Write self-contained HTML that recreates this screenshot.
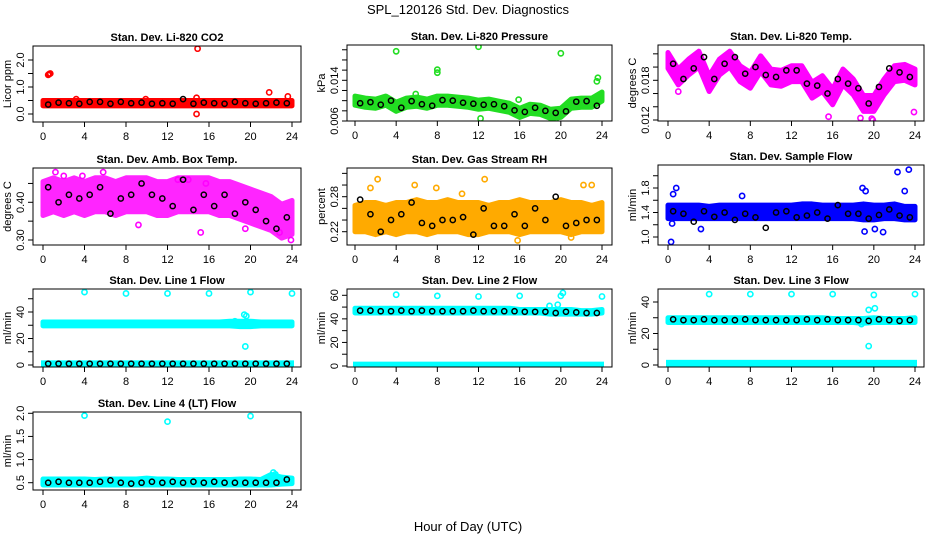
<!DOCTYPE html>
<html><head><meta charset="utf-8">
<style>
html,body{margin:0;padding:0;background:#fff;}
svg{display:block;font-family:"Liberation Sans",Arial,sans-serif;}
</style></head>
<body>
<svg id="chart" width="936" height="540" viewBox="0 0 936 540">
<text x="468" y="14" font-size="13" text-anchor="middle">SPL_120126  Std. Dev. Diagnostics</text>
<text x="468" y="531" font-size="13" text-anchor="middle">Hour of Day (UTC)</text>
</svg>
<script>
// ---- shared x ticks ----
const xTicks = [0,4,8,12,16,20,24];
const blackHours = [0.5,1.5,2.5,3.5,4.5,5.5,6.5,7.5,8.5,9.5,10.5,11.5,12.5,13.5,14.5,15.5,16.5,17.5,18.5,19.5,20.5,21.5,22.5,23.5];
const bandHours = [0,1,2,3,4,5,6,7,8,9,10,11,12,13,14,15,16,17,18,19,20,21,22,23,24];

// ---- panel 1: CO2 ----
const co2Low  = [0.3,0.3,0.3,0.3,0.3,0.3,0.3,0.3,0.3,0.3,0.3,0.3,0.3,0.3,0.3,0.3,0.3,0.3,0.3,0.3,0.3,0.3,0.3,0.3,0.3];
const co2High = [0.5,0.5,0.5,0.5,0.5,0.5,0.5,0.5,0.5,0.5,0.5,0.5,0.5,0.5,0.5,0.5,0.5,0.5,0.5,0.5,0.5,0.5,0.5,0.5,0.5];
const co2Black = [0.35,0.42,0.4,0.38,0.45,0.45,0.38,0.45,0.4,0.42,0.38,0.4,0.38,0.55,0.38,0.42,0.4,0.38,0.45,0.4,0.38,0.4,0.42,0.4];
const co2OutX = [0.5,0.6,0.7,14.9,14.8,14.8,21.8,23.6,3.2,9.9];
const co2OutY = [1.45,1.48,1.5,2.42,0.6,0.0,0.8,0.65,0.55,0.55];
// ---- panel 2: pressure ----
const presLow  = [0.0091,0.0087,0.0085,0.0091,0.0079,0.0087,0.0089,0.0085,0.0091,0.0091,0.0089,0.0087,0.0083,0.0085,0.0081,0.0077,0.0067,0.0075,0.0073,0.0065,0.0067,0.0085,0.0087,0.0087,0.0099];
const presHigh = [0.0109,0.0105,0.0103,0.0109,0.0097,0.0105,0.0107,0.0103,0.0109,0.0109,0.0107,0.0105,0.0101,0.0103,0.0099,0.0095,0.0085,0.0093,0.0091,0.0083,0.0085,0.0103,0.0105,0.0105,0.0117];
const presBlack = [0.0095,0.0097,0.0092,0.0100,0.0086,0.0099,0.0093,0.0090,0.0101,0.0100,0.0096,0.0094,0.0092,0.0093,0.0089,0.0081,0.0078,0.0086,0.0080,0.0076,0.0079,0.0098,0.0099,0.0090];
const presOutX = [4,8,8,12,20,23.6,23.5,15.9,12.2,19.5,5.9];
const presOutY = [0.0197,0.0161,0.0155,0.0206,0.0193,0.0145,0.0138,0.0102,0.0065,0.0064,0.0113];
// ---- panel 3: Li-820 temp ----
const tempLow  = [0.0198,0.0173,0.0188,0.0200,0.0163,0.0188,0.0200,0.0178,0.0168,0.0193,0.0173,0.0171,0.0178,0.0178,0.0153,0.0163,0.0143,0.0173,0.0158,0.0133,0.0133,0.0158,0.0178,0.0180,0.0173];
const tempHigh = [0.0222,0.0197,0.0212,0.0224,0.0187,0.0212,0.0224,0.0202,0.0192,0.0217,0.0197,0.0195,0.0202,0.0202,0.0177,0.0187,0.0167,0.0197,0.0182,0.0157,0.0157,0.0182,0.0202,0.0204,0.0197];
const tempBlack = [0.0205,0.0182,0.0198,0.0215,0.0182,0.0205,0.0215,0.0190,0.0200,0.0188,0.0185,0.0195,0.0195,0.0175,0.0172,0.0160,0.0182,0.0175,0.0168,0.0145,0.0170,0.0198,0.0192,0.0185];
const tempOutX = [1,23.9,18.7,15.6,19.8,19.9];
const tempOutY = [0.0163,0.0132,0.0123,0.0125,0.0122,0.0120];
// ---- panel 4: ambient box temp ----
const ambLow  = [0.365,0.375,0.365,0.375,0.365,0.375,0.375,0.365,0.375,0.375,0.375,0.365,0.365,0.375,0.375,0.375,0.375,0.365,0.365,0.355,0.345,0.335,0.325,0.305,0.315];
const ambHigh = [0.455,0.465,0.455,0.465,0.455,0.465,0.465,0.455,0.465,0.465,0.465,0.455,0.455,0.465,0.465,0.465,0.465,0.455,0.455,0.445,0.435,0.425,0.415,0.395,0.405];
const ambBlack = [0.44,0.40,0.42,0.41,0.42,0.44,0.37,0.41,0.42,0.45,0.42,0.41,0.39,0.46,0.38,0.42,0.39,0.42,0.37,0.40,0.38,0.35,0.33,0.36];
const ambOutX = [1.2,3.8,5.8,13,14,15.7,22.8,23.9,9.2,15.2,19.5,2.0];
const ambOutY = [0.48,0.47,0.48,0.46,0.46,0.45,0.32,0.30,0.34,0.32,0.33,0.47];
// ---- panel 5: gas stream RH ----
const rhLow  = [0.22,0.22,0.215,0.22,0.215,0.22,0.22,0.215,0.22,0.22,0.22,0.215,0.215,0.22,0.22,0.22,0.215,0.22,0.22,0.22,0.22,0.215,0.22,0.22,0.22];
const rhHigh = [0.265,0.27,0.27,0.265,0.27,0.27,0.275,0.27,0.27,0.275,0.27,0.27,0.27,0.265,0.27,0.27,0.275,0.27,0.27,0.27,0.275,0.27,0.27,0.265,0.27];
const rhBlack = [0.275,0.25,0.22,0.24,0.25,0.27,0.235,0.23,0.24,0.24,0.245,0.215,0.26,0.23,0.23,0.25,0.23,0.26,0.24,0.28,0.23,0.235,0.24,0.24];
const rhOutX = [2.2,5.8,7.9,12.6,22.2,23,1.5,10.4,21,15.8,0.1];
const rhOutY = [0.31,0.30,0.295,0.31,0.30,0.30,0.295,0.285,0.21,0.205,0.222];
// ---- panel 6: sample flow ----
const sfLow  = [1.3,1.3,1.3,1.3,1.3,1.3,1.3,1.3,1.3,1.3,1.3,1.3,1.3,1.3,1.3,1.3,1.3,1.3,1.3,1.28,1.28,1.3,1.3,1.28,1.28];
const sfHigh = [1.52,1.52,1.52,1.52,1.5,1.52,1.52,1.52,1.52,1.52,1.52,1.52,1.52,1.54,1.54,1.52,1.52,1.52,1.52,1.54,1.52,1.52,1.54,1.5,1.5];
const sfBlack = [1.42,1.38,1.25,1.42,1.33,1.40,1.28,1.38,1.32,1.15,1.40,1.42,1.32,1.35,1.40,1.30,1.52,1.38,1.38,1.30,1.36,1.45,1.35,1.32];
const sfOutX = [0.5,0.3,0.8,3.2,7.2,18.9,19.2,20.1,20.9,22.3,23.4,23,19.1,0.4];
const sfOutY = [1.7,0.92,1.8,1.13,1.67,1.8,1.75,1.13,1.08,2.06,2.1,1.75,1.09,1.22];
// ---- panel 7: line 1 flow ----
const l1Low  = [29.5,29.5,29.5,29.5,29.5,29.5,29.5,29.5,29.5,29.5,29.5,29.5,29.5,29.5,29.5,29.5,29.5,29.5,29.5,29.0,29.0,29.5,29.5,29.5,29.5];
const l1High = [32.5,32.5,32.5,32.5,32.5,32.5,32.5,32.5,32.5,32.5,32.5,32.5,32.5,32.5,32.5,32.5,32.5,32.5,33,33,33,32.5,32.5,32.5,32.5];
const l1Black = [1,1,1,1,1,1,1,1,1,1,1,1,1,1,1,1,1,1,1,1,1,1,1,1];
const l1OutX = [4,8,12,16,20,24,19.5,19.4,19.6,18.5];
const l1OutY = [55,54,54,54,55,54,14,38,37,33];
// ---- panel 8: line 2 flow ----
const l2Low  = [45,45,45,45,45,45,45,45,45,45,45,45,45,45,45,45,45,45,45,44,44,44,44,44,45];
const l2High = [49,49,49,49,49,49,49,49,49,49,49,49,49,49,49,49,48,48,48,48,48,48,47,47,48];
const l2Black = [47,47,46.5,46.5,47,46.5,47,46.5,46.5,46.5,46.5,47,46.5,46.5,46.5,46.5,46,46,46,45,46,45.5,45,45];
const l2OutX = [4,8,12,16,20,20.2,24,18.9,19.7];
const l2OutY = [60.5,59.5,59,59.5,59.5,62,59,51,52];
// ---- panel 9: line 3 flow ----
const l3Low  = [27,27,27,27,27,27,27,27,27,27,27,27,27,27,27,27,27,27,27,26.5,27,27,27,27,27];
const l3High = [30,30,30,30,30,30,30,30,30,30,30,30,30,30,30,30,29.5,29.5,29.5,29.5,30,29.5,29.5,29.5,30];
const l3Black = [29,28.5,28.5,29,28.5,28.5,28.5,29,28.5,28.5,28.5,28.5,28.5,29,28.5,29,28.5,28.5,28.5,28,29,28.5,28,28.5];
const l3OutX = [4,8,12,16,20,24,19.5,19.5,20.1,18.8];
const l3OutY = [45,45,45,45,44.5,45,12,35,36,26];
// ---- panel 10: line 4 flow ----
const l4Low  = [0.45,0.45,0.45,0.45,0.45,0.45,0.45,0.45,0.45,0.45,0.45,0.45,0.45,0.45,0.45,0.45,0.45,0.45,0.45,0.45,0.45,0.45,0.45,0.47,0.48];
const l4High = [0.58,0.58,0.58,0.58,0.58,0.57,0.58,0.58,0.58,0.58,0.6,0.58,0.58,0.57,0.57,0.57,0.57,0.57,0.57,0.58,0.58,0.57,0.68,0.62,0.6];
const l4Black = [0.5,0.52,0.5,0.5,0.5,0.52,0.55,0.5,0.48,0.5,0.52,0.5,0.52,0.5,0.52,0.5,0.52,0.5,0.5,0.5,0.5,0.5,0.5,0.57];
const l4OutX = [4,12,20,22.2,22.4];
const l4OutY = [1.95,1.82,1.94,0.72,0.68];

const panels = [
 {name:'co2',title:'Stan. Dev. Li-820 CO2',yl:'Licor ppm',box:[33,46,301,122],x0:43,x24:292,ya:[0,114,2,60],ticks:[0,0.5,1,1.5,2],labels:[0,1,2],fmt:1,col:'#ff0000',low:co2Low,high:co2High,blk:co2Black,ox:co2OutX,oy:co2OutY},
 {name:'pressure',title:'Stan. Dev. Li-820 Pressure',yl:'kPa',box:[347,45,612,121],x0:355,x24:602,ya:[0.006,121,0.014,80.3],ticks:[0.006,0.008,0.010,0.012,0.014,0.016,0.018,0.020],labels:[0.006,0.014],fmt:3,col:'#22dd22',low:presLow,high:presHigh,blk:presBlack,ox:presOutX,oy:presOutY},
 {name:'li820-temp',title:'Stan. Dev. Li-820 Temp.',yl:'degrees C',box:[658,45,924,121],x0:668,x24:915,ya:[0.012,120,0.018,80.3],ticks:[0.012,0.014,0.016,0.018,0.020,0.022],labels:[0.012,0.018],fmt:3,col:'#ff00ff',low:tempLow,high:tempHigh,blk:tempBlack,ox:tempOutX,oy:tempOutY},
 {name:'amb-box-temp',title:'Stan. Dev. Amb. Box Temp.',yl:'degrees C',box:[33,168,301,245],x0:43,x24:292,ya:[0.30,240,0.40,202.3],ticks:[0.30,0.35,0.40,0.45],labels:[0.30,0.40],fmt:2,col:'#ff00ff',low:ambLow,high:ambHigh,blk:ambBlack,ox:ambOutX,oy:ambOutY},
 {name:'gas-stream-rh',title:'Stan. Dev. Gas Stream RH',yl:'percent',box:[347,168,612,245],x0:355,x24:602,ya:[0.22,231.7,0.28,196.7],ticks:[0.22,0.24,0.26,0.28,0.30,0.32],labels:[0.22,0.28],fmt:2,col:'#ffaa00',low:rhLow,high:rhHigh,blk:rhBlack,ox:rhOutX,oy:rhOutY},
 {name:'sample-flow',title:'Stan. Dev. Sample Flow',yl:'ml/min',box:[658,165,924,245],x0:668,x24:915,ya:[1.0,237,1.8,188],ticks:[1.0,1.2,1.4,1.6,1.8,2.0],labels:[1.0,1.4,1.8],fmt:1,col:'#0000ff',low:sfLow,high:sfHigh,blk:sfBlack,ox:sfOutX,oy:sfOutY},
 {name:'line1-flow',title:'Stan. Dev. Line 1 Flow',yl:'ml/min',box:[33,289,301,367],x0:43,x24:292,ya:[0,365,40,312],ticks:[0,10,20,30,40,50],labels:[0,20,40],fmt:0,col:'#00ffff',low:l1Low,high:l1High,blk:l1Black,ox:l1OutX,oy:l1OutY,zero:true},
 {name:'line2-flow',title:'Stan. Dev. Line 2 Flow',yl:'ml/min',box:[347,289,612,367],x0:355,x24:602,ya:[0,366,60,295.3],ticks:[0,10,20,30,40,50,60],labels:[0,20,40,60],fmt:0,col:'#00ffff',low:l2Low,high:l2High,blk:l2Black,ox:l2OutX,oy:l2OutY,zero:true},
 {name:'line3-flow',title:'Stan. Dev. Line 3 Flow',yl:'ml/min',box:[658,289,924,367],x0:668,x24:915,ya:[0,365,40,302],ticks:[0,10,20,30,40],labels:[0,20,40],fmt:0,col:'#00ffff',low:l3Low,high:l3High,blk:l3Black,ox:l3OutX,oy:l3OutY,zero:true},
 {name:'line4-flow',title:'Stan. Dev. Line 4 (LT) Flow',yl:'ml/min',box:[33,412,301,490],x0:43,x24:292,ya:[0.5,482.7,2.0,413.3],ticks:[0.5,1.0,1.5,2.0],labels:[0.5,1.0,1.5,2.0],fmt:1,col:'#00ffff',low:l4Low,high:l4High,blk:l4Black,ox:l4OutX,oy:l4OutY}
];

const svg = document.getElementById('chart');
const NS = 'http://www.w3.org/2000/svg';
function mk(tag, attrs, parent){
  const e = document.createElementNS(NS, tag);
  for (const k in attrs) e.setAttribute(k, attrs[k]);
  parent.appendChild(e);
  return e;
}

panels.forEach(p => {
  const [L,T,R,B] = p.box;
  const xs = v => p.x0 + v*(p.x24-p.x0)/24;
  const ys = v => p.ya[1] + (v-p.ya[0])*(p.ya[3]-p.ya[1])/(p.ya[2]-p.ya[0]);
  const g = mk('g', {}, svg);
  
  

  const clipId = 'clip-' + p.name;
  const cp = mk('clipPath', {id: clipId}, g);
  mk('rect', {x:L, y:T, width:R-L, height:B-T}, cp);
  const plot = mk('g', {'clip-path':'url(#'+clipId+')'}, g);
  
  

  // dense colored cloud as band
  let pts = bandHours.map((h,i)=>xs(h)+','+ys(p.high[i]));
  pts = pts.concat(bandHours.slice().reverse().map((h,j)=>{const i=bandHours.length-1-j; return xs(h)+','+ys(p.low[i]);}));
  const band = mk('polygon', {points:pts.join(' '), fill:p.col, stroke:p.col, 'stroke-width':5, 'stroke-linejoin':'round', opacity: p.name==='amb-box-temp'?0.85:1}, plot);
  
  

  if (p.zero) {
    const zb = mk('rect', {x:xs(0)-2, y:ys(2)-2, width:xs(24)-xs(0)+4, height:ys(0)-ys(2)+4, fill:p.col}, plot);
    
    
  }

  p.ox.forEach((x,i)=>{
    const c = mk('circle', {cx:xs(x), cy:ys(p.oy[i]), r:2.6, fill:'none', stroke:p.col, 'stroke-width':1.6}, plot);
    
    
  });
  p.blk.forEach((v,i)=>{
    const c = mk('circle', {cx:xs(blackHours[i]), cy:ys(v), r:2.6, fill:'none', stroke:'#000', 'stroke-width':1.5}, plot);
    
    
  });

  const box = mk('rect', {x:L, y:T, width:R-L, height:B-T, fill:'none', stroke:'#000', 'stroke-width':1}, g);
  
  

  const t = mk('text', {x:(L+R)/2, y:T-5, 'font-size':11, 'font-weight':'bold', 'text-anchor':'middle'}, g);
  t.textContent = p.title;
  
  

  // x axis
  const xa = mk('g', {}, g);
  
  
  mk('line', {x1:xs(0), x2:xs(24), y1:B, y2:B, stroke:'#000'}, xa);
  xTicks.forEach(v=>{
    mk('line', {x1:xs(v), x2:xs(v), y1:B, y2:B+5, stroke:'#000'}, xa);
    const tl = mk('text', {x:xs(v), y:B+18, 'font-size':11, 'text-anchor':'middle'}, xa);
    tl.textContent = v;
  });

  // y axis
  const ya = mk('g', {}, g);
  
  
  const vis = p.ticks.filter(v=>ys(v)>=T-0.5 && ys(v)<=B+0.5);
  mk('line', {x1:L, x2:L, y1:ys(vis[0]), y2:ys(vis[vis.length-1]), stroke:'#000'}, ya);
  vis.forEach(v=>{
    mk('line', {x1:L-5, x2:L, y1:ys(v), y2:ys(v), stroke:'#000'}, ya);
  });
  p.labels.forEach(v=>{
    const yy = ys(v);
    const tl = mk('text', {x:L-9, y:yy, 'font-size':11, 'text-anchor':'middle', transform:'rotate(-90 '+(L-9)+' '+yy+')'}, ya);
    tl.textContent = v.toFixed(p.fmt);
  });
  const yt = mk('text', {x:L-22, y:(T+B)/2, 'font-size':11, 'text-anchor':'middle', transform:'rotate(-90 '+(L-22)+' '+((T+B)/2)+')'}, g);
  yt.textContent = p.yl;
  
  
});
</script>
</body></html>
